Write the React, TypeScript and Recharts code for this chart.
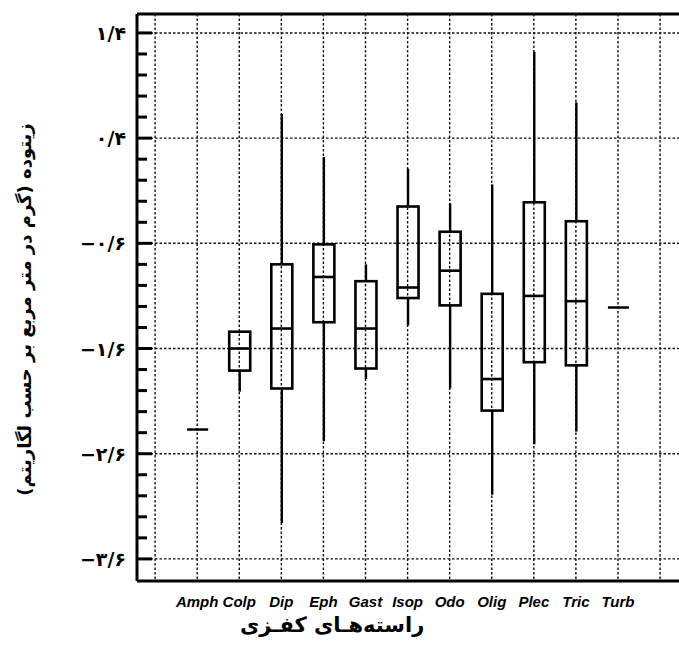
import {
  Bar,
  CartesianGrid,
  ComposedChart,
  ReferenceLine,
  XAxis,
  YAxis,
} from "recharts";

const categories = ["Amph", "Colp", "Dip", "Eph", "Gast", "Isop", "Odo", "Olig", "Plec", "Tric", "Turb"];
const positions = [1, 2, 3, 4, 5, 6, 7, 8, 9, 10, 11];
const whiskerMax = [-2.37, -1.44, 0.63, 0.22, -0.8, 0.11, -0.22, -0.04, 1.22, 0.74, -1.21];
const boxQ3 = [-2.37, -1.44, -0.8, -0.61, -0.96, -0.25, -0.49, -1.08, -0.21, -0.39, -1.21];
const medians = [-2.37, -1.6, -1.41, -0.92, -1.41, -1.02, -0.86, -1.89, -1.1, -1.15, -1.21];
const boxQ1 = [-2.37, -1.81, -1.98, -1.35, -1.79, -1.12, -1.19, -2.19, -1.73, -1.76, -1.21];
const whiskerMin = [-2.37, -2.01, -3.26, -2.48, -1.89, -1.38, -1.98, -2.99, -2.51, -2.39, -1.21];

// vertical dotted grid sits on every slot, including the two empty ones
const xGridValues = [0, 1, 2, 3, 4, 5, 6, 7, 8, 9, 10, 11, 12];
const xDomain = [-0.43, 12.45];

const yMajorTicks = [1.4, 0.4, -0.6, -1.6, -2.6, -3.6];
const yMajorLabels = ["۱/۴", "۰/۴", "−۰/۶", "−۱/۶", "−۲/۶", "−۳/۶"];
const yAllTicks = [
  1.4, 1.2, 1.0, 0.8, 0.6, 0.4, 0.2, 0.0, -0.2, -0.4, -0.6, -0.8, -1.0, -1.2, -1.4, -1.6, -1.8, -2.0,
  -2.2, -2.4, -2.6, -2.8, -3.0, -3.2, -3.4, -3.6,
];
const yDomain = [-3.81, 1.58];

const yTitle = "زیتوده (گرم در متر مربع بر حسب لگاریتم)";
const xTitle = "راسته‌هـای کفـزی";

const data = categories.map((name, i) => ({
  name,
  pos: positions[i],
  range: [whiskerMin[i], whiskerMax[i]],
  q1: boxQ1[i],
  median: medians[i],
  q3: boxQ3[i],
}));

function majorIndex(v: number) {
  return yMajorTicks.findIndex((m) => Math.abs(m - v) < 1e-6);
}

function LeftTick(props: any) {
  const { x, y, payload } = props;
  const idx = majorIndex(payload.value);
  const major = idx >= 0;
  return (
    <g>
      <line x1={x} x2={x + (major ? 15 : 10)} y1={y} y2={y} stroke="#000" strokeWidth={3} />
      {major ? (
        <text
          x={x - 11}
          y={y}
          textAnchor="end"
          dominantBaseline="central"
          fontFamily="DejaVu Sans"
          fontWeight="bold"
          fontSize={19}
          fill="#000"
        >
          {yMajorLabels[idx]}
        </text>
      ) : null}
    </g>
  );
}

function RightTick(props: any) {
  const { x, y } = props;
  return <line x1={x - 4} x2={x} y1={y} y2={y} stroke="#000" strokeWidth={3} />;
}

function BoxShape(props: any) {
  const { x, y, width, height, payload } = props;
  const top = Math.min(y, y + height);
  const bottom = Math.max(y, y + height);
  const [lo, hi] = payload.range;
  if (hi === lo) {
    return <line x1={x} x2={x + width} y1={top} y2={top} stroke="#000" strokeWidth={2.5} />;
  }
  const py = (v: number) => top + ((hi - v) / (hi - lo)) * (bottom - top);
  const cx = x + width / 2;
  const yQ3 = py(payload.q3);
  const yQ1 = py(payload.q1);
  const yMed = py(payload.median);
  return (
    <g stroke="#000" fill="none">
      <line x1={cx} x2={cx} y1={top} y2={yQ3} strokeWidth={2.4} />
      <line x1={cx} x2={cx} y1={yQ1} y2={bottom} strokeWidth={2.4} />
      <rect x={x} y={yQ3} width={width} height={yQ1 - yQ3} strokeWidth={2.6} />
      <line x1={x} x2={x + width} y1={yMed} y2={yMed} strokeWidth={2.6} />
    </g>
  );
}

function YTitle(props: any) {
  const { viewBox } = props;
  const cx = viewBox.x + 24;
  const cy = viewBox.y + viewBox.height / 2 + 12;
  return (
    <text
      x={cx}
      y={cy}
      transform={`rotate(-90, ${cx}, ${cy})`}
      textAnchor="middle"
      dominantBaseline="central"
      fontFamily="DejaVu Sans"
      fontWeight="bold"
      fontSize={18}
      fill="#000"
    >
      {yTitle}
    </text>
  );
}

function XTitle(props: any) {
  const { viewBox } = props;
  return (
    <text
      x={viewBox.x + viewBox.width * 0.36}
      y={viewBox.y + 51}
      textAnchor="middle"
      fontFamily="DejaVu Sans"
      fontWeight="bold"
      fontSize={21}
      fill="#000"
    >
      {xTitle}
    </text>
  );
}

export default function App() {
  return (
    <div style={{ position: "absolute", left: 0, top: 0, width: 679, height: 656, background: "#fff" }}>
      <ComposedChart width={679} height={656} data={data} margin={{ top: 14, right: 0, bottom: 0, left: 0 }}>
        <CartesianGrid
          horizontalValues={yMajorTicks}
          verticalValues={xGridValues}
          stroke="#111"
          strokeWidth={1.4}
          strokeDasharray="2.5 2"
        />
        <XAxis
          type="number"
          dataKey="pos"
          domain={xDomain}
          allowDataOverflow
          ticks={positions}
          interval={0}
          tickFormatter={(v) => categories[positions.indexOf(v)] ?? ""}
          tickLine={false}
          tickSize={0}
          tickMargin={15}
          height={75}
          axisLine={{ stroke: "#000", strokeWidth: 3 }}
          tick={{
            fontFamily: "Liberation Sans, Arial",
            fontWeight: "bold",
            fontStyle: "italic",
            fontSize: 15,
            fill: "#000",
          }}
          label={<XTitle />}
        />
        <YAxis
          type="number"
          domain={yDomain}
          allowDataOverflow
          ticks={yAllTicks}
          interval={0}
          width={137}
          tickLine={false}
          tickSize={0}
          tickMargin={0}
          axisLine={{ stroke: "#000", strokeWidth: 3 }}
          tick={<LeftTick />}
          label={<YTitle />}
        />
        <YAxis
          yAxisId="right"
          orientation="right"
          type="number"
          domain={yDomain}
          allowDataOverflow
          ticks={yAllTicks}
          interval={0}
          width={0}
          mirror
          tickLine={false}
          tickSize={0}
          tickMargin={0}
          axisLine={false}
          tick={<RightTick />}
        />
        <ReferenceLine y={yDomain[1]} stroke="#000" strokeWidth={3} ifOverflow="visible" />
        <Bar dataKey="range" barSize={21} shape={<BoxShape />} isAnimationActive={false} />
      </ComposedChart>
    </div>
  );
}
